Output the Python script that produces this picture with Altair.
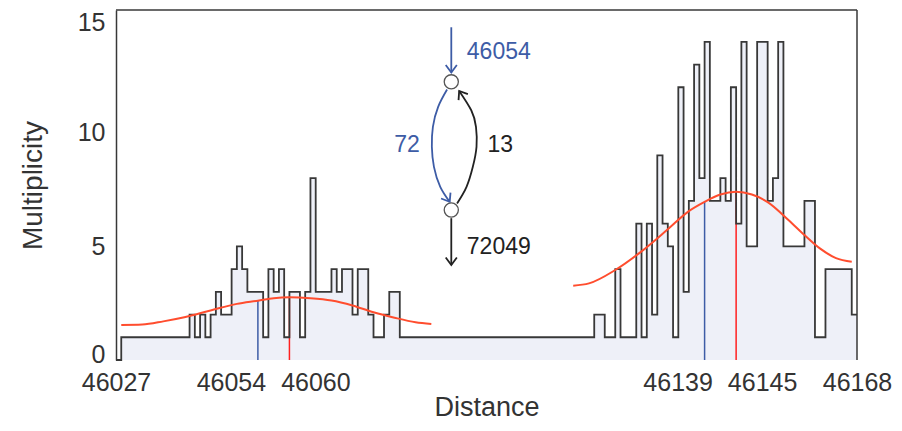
import altair as alt
import pandas as pd

FONT = "Liberation Sans"
BLUE = "#3d5ca6"
RED_FIT = "#ff4d2e"
RED = "#ff2020"
DARK = "#383838"
FILL = "#eef0f8"

X_DOMAIN = [46027, 46168]
Y_DOMAIN = [0, 15.4]
x_tick_values = [46027, 46054, 46060, 46139, 46145, 46168]
y_tick_values = [0, 5, 10, 15]

# histogram: one bin per unit distance, starting at 46027
bin_start = list(range(46027, 46168))
multiplicity = [
    0, 1, 1, 1, 1, 1, 1, 1, 1, 1,
    1, 1, 1, 1, 2, 1, 2, 1, 2, 3,
    2, 2, 4, 5, 4, 3, 3, 3, 1, 4,
    3, 4, 1, 3, 3, 1, 3, 8, 3, 3,
    3, 4, 3, 4, 4, 2, 4, 4, 2, 1,
    1, 2, 3, 3, 1, 1, 1, 1, 1, 1,
    1, 1, 1, 1, 1, 1, 1, 1, 1, 1,
    1, 1, 1, 1, 1, 1, 1, 1, 1, 1,
    1, 1, 1, 1, 1, 1, 1, 1, 1, 1,
    1, 2, 2, 1, 1, 4, 1, 1, 1, 6,
    1, 6, 2, 9, 6, 5, 1, 12, 3, 7,
    13, 8, 14, 7, 7, 8, 7, 12, 6, 14,
    5, 5, 14, 14, 7, 8, 14, 5, 5, 5,
    5, 7, 7, 1, 1, 4, 4, 4, 4, 4,
    2,
]

# fitted curves
fit_left_x = [46028, 46032, 46036, 46040, 46045, 46050, 46054, 46057, 46060,
              46064, 46068, 46072, 46076, 46080, 46084, 46087]
fit_left_y = [1.54, 1.56, 1.70, 1.88, 2.18, 2.47, 2.61, 2.72, 2.76,
              2.72, 2.62, 2.40, 2.10, 1.86, 1.66, 1.58]
fit_right_x = [46114, 46117, 46122, 46127, 46132, 46136, 46139, 46142, 46145,
               46148, 46151, 46155, 46158, 46161, 46164, 46167]
fit_right_y = [3.27, 3.37, 3.96, 4.78, 5.75, 6.55, 6.96, 7.28, 7.40,
               7.28, 6.95, 6.15, 5.50, 4.90, 4.48, 4.32]

# vertical markers
marker_x = [46054, 46060, 46139, 46145]
marker_top = [2.61, 2.76, 6.96, 7.40]
marker_color = [BLUE, RED, BLUE, RED]

# inset diagram (data coordinates)
node_x = [46090.8, 46090.8]
node_y = [12.24, 6.60]
loop_blue_x = [46090.0, 46088.3, 46087.3, 46087.1, 46087.5, 46088.7, 46090.5]
loop_blue_y = [11.90, 11.14, 10.26, 9.38, 8.50, 7.62, 6.96]
loop_black_x = [46091.9, 46093.7, 46094.9, 46095.6, 46095.5, 46094.6, 46092.3]
loop_black_y = [6.89, 7.62, 8.50, 9.38, 10.26, 10.99, 11.84]
shaft_x = [46090.8, 46090.8]
shaft_y1 = [14.64, 6.24]
shaft_y2 = [12.65, 4.18]
shaft_color = [BLUE, "#222222"]
head_x = [46090.8, 46090.8, 46090.5, 46092.3]
head_y = [12.65, 4.18, 6.96, 11.84]
head_angle = [0, 0, 328, 147]
head_color = [BLUE, "#222222", BLUE, "#222222"]
label_left_text = ["46054", "13", "72049"]
label_left_x = [46093.75, 46097.7, 46093.75]
label_left_y = [13.56, 9.45, 4.98]
label_left_color = [BLUE, "#222222", "#222222"]
label_right_text = ["72"]
label_right_x = [46084.8]
label_right_y = [9.45]
label_right_color = [BLUE]

xs = alt.Scale(domain=X_DOMAIN, nice=False, zero=False)
ys = alt.Scale(domain=Y_DOMAIN, nice=False)

x_axis = alt.Axis(
    values=x_tick_values, format="d", ticks=False, tickSize=0,
    domain=False, labelPadding=10, labelFlush=False, titlePadding=-1,
    titleFontSize=27,
    labelOffset={"expr": "datum.value == 46054 || datum.value == 46139 ? -27 : "
                         "(datum.value == 46060 || datum.value == 46145 ? 26 : 0)"},
)
y_axis = alt.Axis(
    values=y_tick_values, ticks=False, tickSize=0,
    domain=True, domainColor=DARK, domainWidth=1.5, labelPadding=11,
    titlePadding=30,
    labelOffset={"expr": "datum.value == 0 ? -6 : (datum.value == 15 ? 3 : 0)"},
)


def X():
    return alt.X("x:Q", scale=xs, axis=x_axis, title="Distance")


def Y():
    return alt.Y("y:Q", scale=ys, axis=y_axis, title="Multiplicity")


hist_df = pd.DataFrame({"x": bin_start + [X_DOMAIN[1]],
                        "y": multiplicity + [multiplicity[-1]]})

area = alt.Chart(hist_df).mark_area(interpolate="step-after", color=FILL).encode(
    x=X(), y=Y(),
)
hist_line = alt.Chart(hist_df).mark_line(
    interpolate="step-after", color=DARK, strokeWidth=1.8
).encode(x=X(), y=Y())

mk_df = pd.DataFrame({"x": marker_x, "top": marker_top, "c": marker_color,
                      "y": [0] * len(marker_x)})
markers = alt.Chart(mk_df).mark_rule(strokeWidth=1.5).encode(
    x=X(), y=Y(), y2="top:Q",
    color=alt.Color("c:N", scale=None),
)

fit_df = pd.concat([
    pd.DataFrame({"x": fit_left_x, "y": fit_left_y, "s": "L"}),
    pd.DataFrame({"x": fit_right_x, "y": fit_right_y, "s": "R"}),
])
fits = alt.Chart(fit_df).mark_line(
    interpolate="monotone", color=RED_FIT, strokeWidth=2
).encode(x=X(), y=Y(), detail="s:N")

frame_df = pd.DataFrame({
    "x": [X_DOMAIN[0], X_DOMAIN[1]],
    "x2": [X_DOMAIN[1], X_DOMAIN[1]],
    "y": [Y_DOMAIN[1], Y_DOMAIN[0]],
    "y2": [Y_DOMAIN[1], Y_DOMAIN[1]],
})
frame = alt.Chart(frame_df).mark_rule(color=DARK, strokeWidth=1.5).encode(
    x=X(), x2="x2:Q", y=Y(), y2="y2:Q",
)

loop_df = pd.concat([
    pd.DataFrame({"x": loop_blue_x, "y": loop_blue_y, "k": range(len(loop_blue_x)),
                  "s": "b", "c": BLUE}),
    pd.DataFrame({"x": loop_black_x, "y": loop_black_y, "k": range(len(loop_black_x)),
                  "s": "k", "c": "#222222"}),
])
loops = alt.Chart(loop_df).mark_line(interpolate="natural", strokeWidth=1.8).encode(
    x=X(), y=Y(), order="k:Q", detail="s:N",
    color=alt.Color("c:N", scale=None),
)

shaft_df = pd.DataFrame({"x": shaft_x, "y": shaft_y1, "y2": shaft_y2, "c": shaft_color})
shafts = alt.Chart(shaft_df).mark_rule(strokeWidth=1.8).encode(
    x=X(), y=Y(), y2="y2:Q",
    color=alt.Color("c:N", scale=None),
)

head_df = pd.DataFrame({"x": head_x, "y": head_y, "a": head_angle, "c": head_color})
heads = alt.Chart(head_df).mark_point(
    shape="M-0.75,-1L0,0L0.75,-1", filled=False, strokeWidth=1.8, size=220, opacity=1
).encode(
    x=X(), y=Y(),
    angle=alt.Angle("a:Q", scale=None),
    color=alt.Color("c:N", scale=None),
)

node_df = pd.DataFrame({"x": node_x, "y": node_y})
nodes = alt.Chart(node_df).mark_point(
    shape="circle", filled=True, fill="white", stroke="#555555", strokeWidth=1.3,
    size=200, opacity=1
).encode(x=X(), y=Y())

tl_df = pd.DataFrame({"t": label_left_text, "x": label_left_x, "y": label_left_y,
                      "c": label_left_color})
texts_left = alt.Chart(tl_df).mark_text(
    align="left", baseline="middle", font=FONT, fontSize=23
).encode(
    x=X(), y=Y(), text="t:N",
    color=alt.Color("c:N", scale=None),
)
tr_df = pd.DataFrame({"t": label_right_text, "x": label_right_x, "y": label_right_y,
                      "c": label_right_color})
texts_right = alt.Chart(tr_df).mark_text(
    align="right", baseline="middle", font=FONT, fontSize=23
).encode(
    x=X(), y=Y(), text="t:N",
    color=alt.Color("c:N", scale=None),
)

chart = alt.layer(
    area, markers, hist_line, fits, frame, loops, shafts, heads, nodes,
    texts_left, texts_right,
).properties(
    width=741, height=350,
    autosize=alt.AutoSizeParams(type="none"),
    padding={"left": 108, "top": 2, "right": 37, "bottom": 63},
).configure_view(stroke=None).configure_axis(
    labelFont=FONT, titleFont=FONT, labelFontSize=25, titleFontSize=28,
    labelColor="#333333", titleColor="#333333", titleFontWeight="normal", grid=False,
)

chart.save("out.html", embed_options={"renderer": "svg", "actions": False})
